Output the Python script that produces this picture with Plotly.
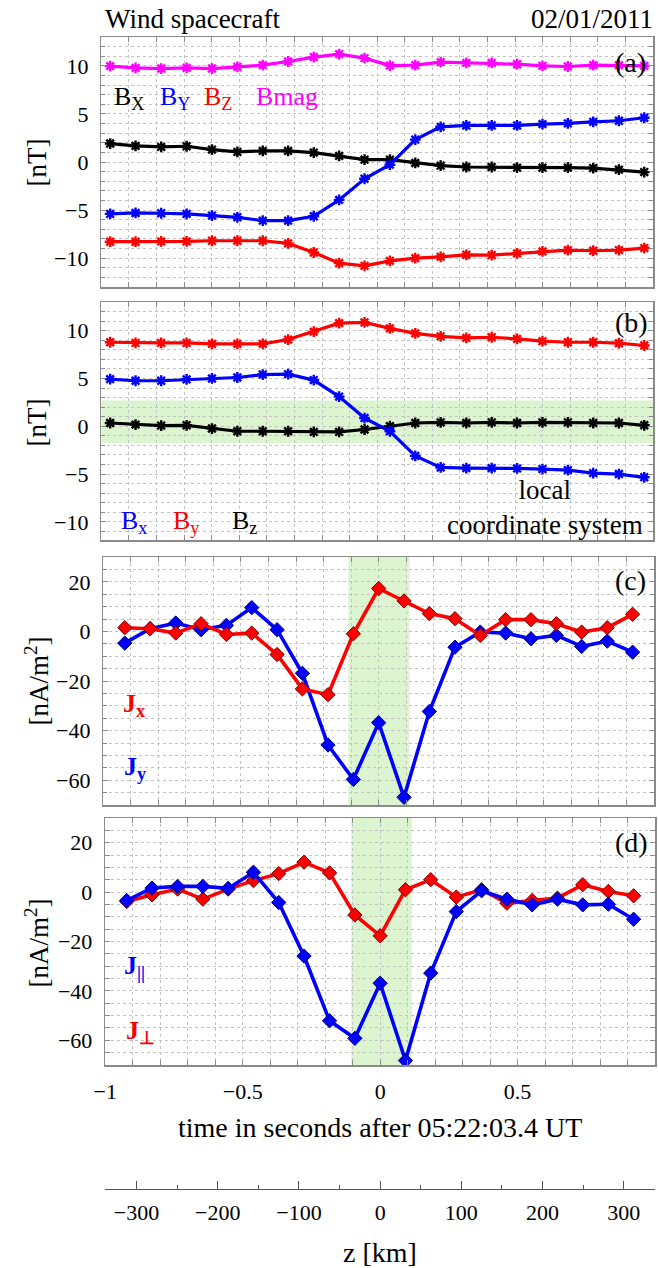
import plotly.graph_objects as go

W, H = 658, 1268


def X(px):
    return px / W


def Y(py):
    return 1 - py / H


# ---------------- data ----------------
t_B = [-0.968, -0.876, -0.783, -0.691, -0.599, -0.507, -0.415, -0.323, -0.230, -0.138, -0.046,
       0.046, 0.138, 0.230, 0.323, 0.415, 0.507, 0.599, 0.691, 0.783, 0.876, 0.968]
t_J = [-0.922, -0.830, -0.737, -0.645, -0.553, -0.461, -0.369, -0.277, -0.184, -0.092, 0.0,
       0.092, 0.184, 0.277, 0.369, 0.461, 0.553, 0.645, 0.737, 0.830, 0.922]

# panel (a) GSE components
Bmag = [9.97, 9.79, 9.72, 9.79, 9.72, 9.90, 10.07, 10.45, 10.91, 11.22, 10.80,
        10.03, 10.07, 10.38, 10.31, 10.31, 10.17, 10.00, 9.93, 10.07, 10.07, 10.00]
BX = [1.92, 1.67, 1.57, 1.64, 1.29, 1.05, 1.15, 1.15, 0.98, 0.63, 0.24,
      0.24, -0.10, -0.38, -0.52, -0.52, -0.59, -0.59, -0.59, -0.63, -0.80, -1.05]
BY = [-5.40, -5.30, -5.33, -5.40, -5.57, -5.75, -6.10, -6.10, -5.64, -3.94, -1.74,
      -0.28, 2.33, 3.66, 3.80, 3.80, 3.80, 3.94, 4.01, 4.18, 4.29, 4.60]
BZ = [-8.29, -8.29, -8.26, -8.26, -8.19, -8.19, -8.19, -8.47, -9.41, -10.52, -10.80,
      -10.28, -10.00, -9.86, -9.65, -9.69, -9.51, -9.30, -9.16, -9.23, -9.16, -8.95]

# panel (b) local coordinate system
Bx_loc = [4.93, 4.76, 4.76, 4.90, 5.00, 5.10, 5.41, 5.45, 4.83, 3.10, 0.86,
          -0.52, -3.10, -4.31, -4.38, -4.38, -4.41, -4.48, -4.59, -4.90, -5.00, -5.34]
By_loc = [8.79, 8.72, 8.72, 8.72, 8.62, 8.62, 8.62, 9.07, 9.90, 10.79, 10.86,
          10.24, 9.72, 9.41, 9.24, 9.31, 9.14, 8.90, 8.79, 8.79, 8.69, 8.45]
Bz_loc = [0.34, 0.17, 0.07, 0.10, -0.24, -0.52, -0.52, -0.52, -0.59, -0.59, -0.34,
          0.00, 0.34, 0.41, 0.34, 0.41, 0.34, 0.41, 0.41, 0.34, 0.34, 0.10]

# panel (c) currents
Jx = [1.49, 1.08, -0.68, 3.11, -1.22, -0.68, -9.32, -23.2, -25.5, -0.95, 17.3,
      12.3, 7.16, 5.14, -1.62, 4.73, 4.73, 3.11, -0.27, 1.49, 6.89]
Jy = [-4.73, 1.08, 3.38, 0.68, 2.43, 9.59, 0.68, -16.9, -45.8, -59.7, -36.8,
      -66.9, -32.3, -6.35, -0.27, -0.68, -2.97, -1.62, -6.08, -3.92, -8.38]

# panel (d) parallel / perpendicular currents
Jpar = [-3.40, 1.63, 2.31, 2.31, 1.50, 8.03, -4.22, -25.9, -52.1, -59.2, -36.9,
        -68.2, -32.8, -7.89, 0.54, -2.86, -5.17, -2.86, -5.17, -4.90, -11.0]
Jperp = [-3.81, -1.09, 1.22, -2.86, 1.22, 4.63, 7.48, 12.1, 7.76, -9.25, -17.7,
         0.95, 5.03, -2.04, 0.95, -4.49, -3.40, -2.45, 2.99, 0.27, -1.50]

# shaded intervals
band_b_y = [-1.75, 2.7]
band_c_x = [-0.11, 0.112]
band_d_x = [-0.105, 0.115]

# ticks
XTICK_VALS = [-1, -0.5, 0, 0.5, 1]
XTICK_TEXT = ["\u22121", "\u22120.5", "0", "0.5", "1"]
BTICK_VALS = [-10, -5, 0, 5, 10]
BTICK_TEXT = ["\u221210", "\u22125", "0", "5", "10"]
JTICK_VALS = [-60, -40, -20, 0, 20]
JTICK_TEXT = ["\u221260", "\u221240", "\u221220", "0", "20"]
ZTICK_VALS = [-300, -200, -100, 0, 100, 200, 300]
ZTICK_TEXT = ["\u2212300", "\u2212200", "\u2212100", "0", "100", "200", "300"]

# ---------------- style ----------------
FONT = "Liberation Serif, Times New Roman, serif"
MAG, BLUE, RED, BLACK = "#FF00FF", "#0000FF", "#FF0000", "#000000"
GRID = "#c4c4c4"
FRAME = "#8a8a8a"
GREEN = "#dcf5d0"

fig = go.Figure()


def bline(x, y, color, xa, ya):
    fig.add_trace(go.Scatter(
        x=x, y=y, mode="lines+markers", xaxis=xa, yaxis=ya,
        line=dict(color=color, width=3.2),
        marker=dict(symbol="asterisk-open", size=9, color=color,
                    line=dict(width=2.4, color=color)),
        showlegend=False, hoverinfo="skip"))


def jline(x, y, color, edge, xa, ya):
    fig.add_trace(go.Scatter(
        x=x, y=y, mode="lines+markers", xaxis=xa, yaxis=ya,
        line=dict(color=color, width=3.6),
        marker=dict(symbol="diamond", size=11, color=color,
                    line=dict(width=1, color=edge)),
        showlegend=False, hoverinfo="skip"))


# (a)
bline(t_B, Bmag, MAG, "x", "y")
bline(t_B, BZ, RED, "x", "y")
bline(t_B, BX, BLACK, "x", "y")
bline(t_B, BY, BLUE, "x", "y")
# (b)
bline(t_B, By_loc, RED, "x2", "y2")
bline(t_B, Bz_loc, BLACK, "x2", "y2")
bline(t_B, Bx_loc, BLUE, "x2", "y2")
# (c)
jline(t_J, Jy, BLUE, "#00007a", "x3", "y3")
jline(t_J, Jx, RED, "#7a0000", "x3", "y3")
# (d)
jline(t_J, Jperp, RED, "#7a0000", "x4", "y4")
jline(t_J, Jpar, BLUE, "#00007a", "x4", "y4")
# dummy trace to carry the z-axis
fig.add_trace(go.Scatter(x=[0], y=[0], xaxis="x5", yaxis="y4", mode="markers",
                         marker=dict(opacity=0), showlegend=False, hoverinfo="skip"))

panels = {
    # name: (x0px, x1px, y_top_px, y_bot_px, yrange, yticks, ytext, ydtick)
    "1": (91, 653, 37, 287, [-13, 13], BTICK_VALS, BTICK_TEXT, 1),
    "2": (91, 653, 302, 540, [-11.9, 13], BTICK_VALS, BTICK_TEXT, 1),
    "3": (93, 654, 557, 805, [-70, 30], JTICK_VALS, JTICK_TEXT, 5),
    "4": (95, 655, 818, 1065, [-70, 30], JTICK_VALS, JTICK_TEXT, 5),
}

layout = dict(
    width=W, height=H, margin=dict(l=0, r=0, t=0, b=0),
    paper_bgcolor="white", plot_bgcolor="white",
    font=dict(family=FONT, size=22, color="black"),
    showlegend=False,
)

for k, (x0, x1, yt, yb, yr, tv, tt, ydt) in panels.items():
    xk = "xaxis" if k == "1" else "xaxis" + k
    yk = "yaxis" if k == "1" else "yaxis" + k
    layout[xk] = dict(
        domain=[X(x0), X(x1)], range=[-1, 1], anchor="y" if k == "1" else "y" + k,
        tickmode="array", tickvals=XTICK_VALS, ticktext=XTICK_TEXT,
        showticklabels=(k == "4"), ticks="inside", ticklen=5, tickcolor=FRAME, tickwidth=1,
        showgrid=True, gridcolor=GRID, griddash="dot", gridwidth=1,
        minor=dict(tickmode="linear", tick0=0, dtick=0.1, ticks="inside", ticklen=5,
                   tickcolor=FRAME, showgrid=True, gridcolor=GRID, griddash="dot", gridwidth=1),
        showline=True, linecolor=FRAME, linewidth=1.5, mirror="allticks",
        zeroline=False, ticklabelstandoff=6,
        tickfont=dict(family=FONT, size=22),
    )
    layout[yk] = dict(
        domain=[Y(yb), Y(yt)], range=yr, anchor="x" if k == "1" else "x" + k,
        tickmode="array", tickvals=tv, ticktext=tt,
        ticks="inside", ticklen=5, tickcolor=FRAME, tickwidth=1,
        showgrid=True, gridcolor=GRID, griddash="dot", gridwidth=1,
        minor=dict(tickmode="linear", tick0=0, dtick=ydt, ticks="inside", ticklen=4,
                   tickcolor=FRAME, showgrid=True, gridcolor=GRID, griddash="dot", gridwidth=1),
        showline=True, linecolor=FRAME, linewidth=1.5, mirror="allticks",
        zeroline=False, ticklabelstandoff=7,
        tickfont=dict(family=FONT, size=22),
    )

# z axis (km)
layout["xaxis5"] = dict(
    overlaying="x4", anchor="free", position=Y(1189), side="bottom",
    range=[-338.5, 338.5], tickmode="array", tickvals=ZTICK_VALS, ticktext=ZTICK_TEXT,
    ticks="inside", ticklen=8, tickcolor="#555555", tickwidth=1,
    minor=dict(tickmode="linear", tick0=0, dtick=50, ticks="inside", ticklen=4,
               tickcolor="#555555", showgrid=False),
    showline=True, linecolor="#555555", linewidth=1.2, showgrid=False, zeroline=False,
    ticklabelstandoff=3, tickfont=dict(family=FONT, size=22),
)

fig.update_layout(**layout)

# shaded regions
fig.add_shape(type="rect", xref="x2", yref="y2", x0=-1, x1=1, y0=band_b_y[0], y1=band_b_y[1],
              fillcolor=GREEN, line=dict(width=0), layer="below")
fig.add_shape(type="rect", xref="x3", yref="y3", x0=band_c_x[0], x1=band_c_x[1], y0=-70, y1=30,
              fillcolor=GREEN, line=dict(width=0), layer="below")
fig.add_shape(type="rect", xref="x4", yref="y4", x0=band_d_x[0], x1=band_d_x[1], y0=-70, y1=30,
              fillcolor=GREEN, line=dict(width=0), layer="below")


def note(text, xpx, ypx, size=26, color="black", xanchor="left", angle=0, align="left"):
    fig.add_annotation(text=text, x=X(xpx), y=Y(ypx), xref="paper", yref="paper",
                       showarrow=False, xanchor=xanchor, yanchor="middle", textangle=angle,
                       align=align, font=dict(family=FONT, size=size, color=color))


# titles
note("Wind spacecraft", 93, 19, size=27)
note("02/01/2011", 655, 19, size=27, xanchor="right")
# panel labels
note("(a)", 648, 62, size=28, xanchor="right")
note("(b)", 650, 323, size=28, xanchor="right")
note("(c)", 648, 580, size=28, xanchor="right")
note("(d)", 650, 842, size=28, xanchor="right")
# legends (a)
note("B<sub>X</sub>", 102, 98, color=BLACK)
note("B<sub>Y</sub>", 149, 98, color=BLUE)
note("B<sub>Z</sub>", 194, 98, color=RED)
note("Bmag", 247, 97, color=MAG)
# legends (b)
note("B<sub>x</sub>", 109, 522, color=BLUE)
note("B<sub>y</sub>", 162, 522, color=RED)
note("B<sub>z</sub>", 222, 522, color=BLACK)
note("local<br>coordinate system", 543, 508, size=27, xanchor="center", align="center")
# legends (c), (d)
note("<b>J<sub>x</sub></b>", 111, 705, color=RED)
note("<b>J<sub>y</sub></b>", 112, 768, color=BLUE)
note("<b>J<sub>||</sub></b>", 112, 967, color=BLUE)
note("<b>J<sub>\u22a5</sub></b>", 114, 1032, color=RED)
# axis titles
note("[nT]", 25, 163, size=27, xanchor="center", angle=-90)
note("[nT]", 25, 423, size=27, xanchor="center", angle=-90)
note("[nA/m<sup>2</sup>]", 25, 681, size=27, xanchor="center", angle=-90)
note("[nA/m<sup>2</sup>]", 25, 943, size=27, xanchor="center", angle=-90)
note("time in seconds after 05:22:03.4 UT", 375, 1127, size=28, xanchor="center")
note("z [km]", 375, 1252, size=28, xanchor="center")

fig.write_html(
    "out.html",
    config={"displayModeBar": False, "staticPlot": True},
    post_script="document.body.style.margin='0';document.body.style.overflow='hidden';",
)
